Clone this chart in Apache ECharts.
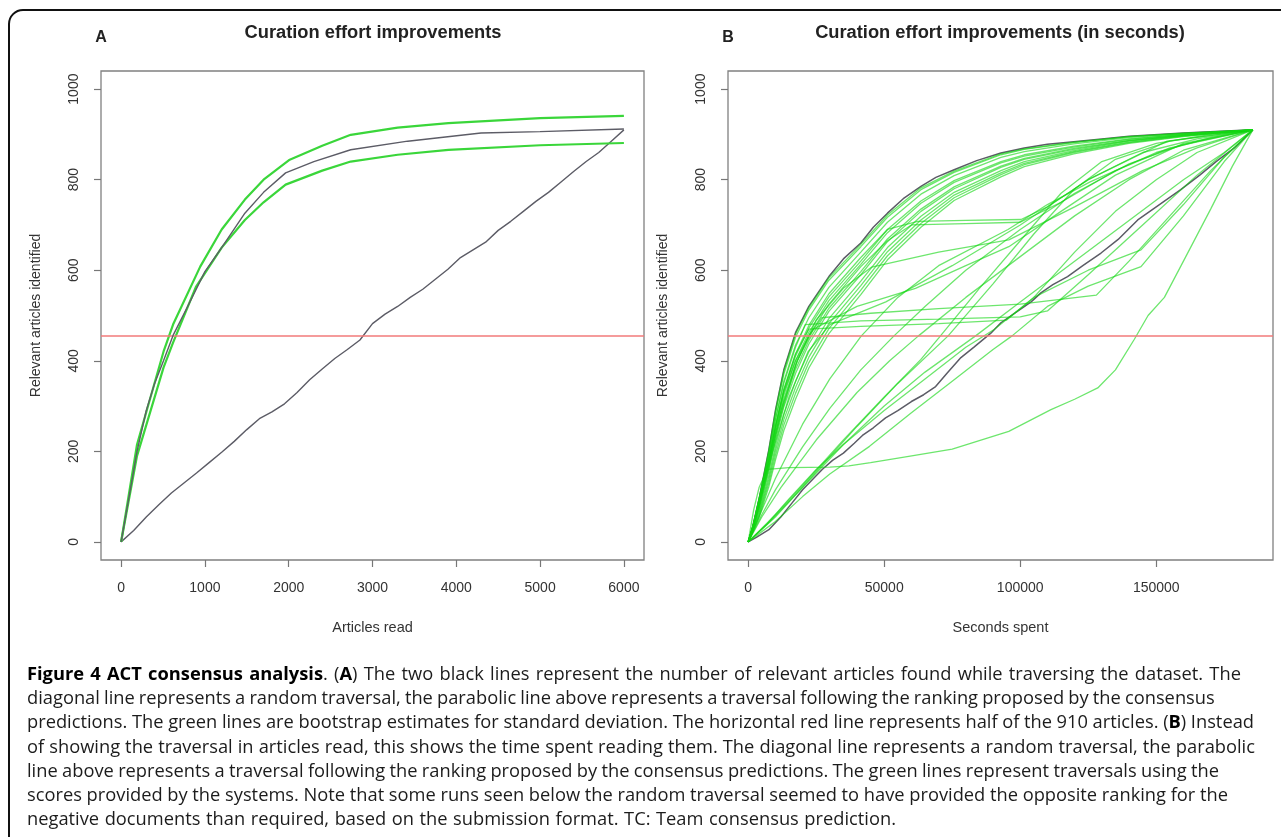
<!DOCTYPE html>
<html>
<head>
<meta charset="utf-8">
<script src="https://cdn.jsdelivr.net/npm/echarts@6/dist/echarts.min.js"></script>
<style>
  html, body { margin:0; padding:0; background:#fff; }
  #wrap { position:relative; width:1281px; height:837px; overflow:hidden; background:#fff; }
  #chart { position:absolute; left:0; top:0; width:1281px; height:837px; }
  .cap { position:absolute; left:27px; height:24px; line-height:24px; white-space:nowrap;
         font-family:"Open Sans","Noto Sans",sans-serif; font-size:18.3px; color:#1c1c1c; }
  .cap b { color:#000; font-weight:700; }
</style>
</head>
<body>
<div id="wrap">
  <div id="chart"></div>
  <div class="cap" data-end="1255" style="top:661px"><span><b>Figure 4 ACT consensus analysis</b>. (<b>A</b>) The two black lines represent the number of relevant articles found while traversing the dataset. The</span></div>
  <div class="cap" data-end="1196" style="top:685px"><span>diagonal line represents a random traversal, the parabolic line above represents a traversal following the ranking proposed by the consensus</span></div>
  <div class="cap" data-end="1254" style="top:709px"><span>predictions. The green lines are bootstrap estimates for standard deviation. The horizontal red line represents half of the 910 articles. (<b>B</b>) Instead</span></div>
  <div class="cap" data-end="1255" style="top:734px"><span>of showing the traversal in articles read, this shows the time spent reading them. The diagonal line represents a random traversal, the parabolic</span></div>
  <div class="cap" data-end="1219" style="top:758px"><span>line above represents a traversal following the ranking proposed by the consensus predictions. The green lines represent traversals using the</span></div>
  <div class="cap" data-end="1228" style="top:782px"><span>scores provided by the systems. Note that some runs seen below the random traversal seemed to have provided the opposite ranking for the</span></div>
  <div class="cap" data-end="896" style="top:806px"><span>negative documents than required, based on the submission format. TC: Team consensus prediction.</span></div>
</div>
<script>
// ---------- tick labels ----------
const ticksAX = [0, 1000, 2000, 3000, 4000, 5000, 6000];
const ticksBX = [0, 50000, 100000, 150000];
const ticksY  = [0, 200, 400, 600, 800, 1000];
const halfOfRelevant = 455; // half of the 910 articles

// ---------- Panel A: articles read vs relevant articles ----------
const randomA = [[0,0],[150,25],[300,55],[450,82],[600,108],[750,130],[900,152],[1050,175],[1200,198],[1350,222],[1500,248],[1650,272],[1800,287],[1950,305],[2100,330],[2250,358],[2400,382],[2550,405],[2700,425],[2850,446],[3000,482],[3150,503],[3300,520],[3450,540],[3600,558],[3750,580],[3900,602],[4050,628],[4200,645],[4350,662],[4500,688],[4650,708],[4800,730],[4950,752],[5100,772],[5250,795],[5400,818],[5550,840],[5700,860],[5850,885],[6000,910]];
const consensusA = [[0,0],[100,105],[190,200],[300,290],[400,350],[506,400],[620,456],[800,522],[1000,597],[1200,650],[1477,726],[1700,772],[1963,815],[2300,840],[2740,866],[3420,885],[4295,903],[5000,906],[6000,912]];
const upperA = [[0,0],[190,215],[506,420],[620,480],[944,608],[1200,690],[1477,756],[1700,800],[2012,844],[2400,875],[2740,899],[3300,915],[3906,925],[5000,936],[6000,941]];
const lowerA = [[0,0],[190,190],[506,385],[620,440],[895,564],[1200,650],[1477,711],[1700,750],[1963,789],[2400,820],[2740,840],[3300,855],[3906,866],[5000,876],[6000,881]];

// ---------- Panel B: seconds spent vs relevant articles ----------
const consensusB = [[0,0],[1500,30],[3930,93],[7600,204],[10070,292],[13100,380],[17400,462],[22300,520],[29670,586],[35000,625],[41400,660],[46000,695],[51200,726],[57000,758],[63500,785],[69000,805],[75700,822],[84000,842],[92900,859],[101500,870],[110000,878],[119700,884],[130000,890],[140000,896],[160000,903],[185500,910]];
const randomB = [[0,0],[3000,10],[7600,27],[12000,55],[16000,85],[20000,115],[24000,140],[27200,160],[31000,180],[35000,196],[39000,218],[42000,235],[46000,252],[50500,274],[55000,290],[60000,310],[64500,325],[68900,343],[73000,372],[78200,407],[83000,430],[89200,461],[92900,484],[98000,505],[104000,530],[107600,550],[112000,568],[117400,586],[123000,610],[129700,638],[136000,668],[143200,711],[150000,740],[159000,778],[166000,810],[172000,840],[178700,870],[185500,910]];

const runT0  = [[0,0],[1500,30],[3930,92],[7600,202],[10070,290],[13100,377],[17400,459],[22300,517],[29670,583],[41400,657],[51200,722],[63500,782],[75700,819],[92900,857],[101500,868],[119700,883],[140000,895],[160000,903],[185500,910]];
const runT1  = [[0,0],[1500,29],[3930,90],[7600,198],[10070,284],[13100,370],[17400,452],[22300,512],[29670,578],[41400,652],[51200,717],[63500,778],[75700,816],[92900,855],[101500,867],[119700,882],[140000,895],[160000,902],[185500,910]];
const runT2  = [[0,0],[1500,28],[3930,86],[7600,190],[10070,272],[13100,355],[17400,435],[22300,495],[29670,562],[41400,640],[51200,706],[63500,768],[75700,809],[92900,849],[101500,862],[119700,879],[140000,893],[160000,901],[185500,910]];
const runT3  = [[0,0],[1500,26],[3930,80],[7600,178],[10070,255],[13100,333],[17400,410],[22300,472],[29670,541],[41400,620],[51200,690],[63500,753],[75700,798],[92900,840],[101500,855],[119700,874],[140000,890],[160000,900],[185500,910]];
const runT4  = [[0,0],[1500,25],[3930,77],[7600,172],[10070,247],[13100,324],[17400,400],[22300,463],[29670,533],[41400,613],[51200,683],[63500,748],[75700,794],[92900,837],[101500,852],[119700,872],[140000,889],[160000,900],[185500,910]];
const runT5  = [[0,0],[1500,24],[3930,72],[7600,162],[10070,233],[13100,307],[17400,381],[22300,445],[29670,516],[41400,597],[51200,669],[63500,735],[75700,784],[92900,830],[101500,847],[119700,869],[140000,887],[160000,899],[185500,910]];
const runT6  = [[0,0],[1500,23],[3930,69],[7600,156],[10070,225],[13100,298],[17400,372],[22300,437],[29670,509],[41400,590],[51200,663],[63500,730],[75700,780],[92900,827],[101500,845],[119700,867],[140000,886],[160000,898],[185500,910]];
const runT7  = [[0,0],[1500,22],[3930,64],[7600,146],[10070,212],[13100,282],[17400,354],[22300,420],[29670,493],[41400,576],[51200,650],[63500,719],[75700,772],[92900,820],[101500,840],[119700,864],[140000,885],[160000,898],[185500,910]];
const runT8  = [[0,0],[1500,21],[3930,60],[7600,138],[10070,202],[13100,270],[17400,341],[22300,408],[29670,482],[41400,566],[51200,641],[63500,711],[75700,766],[92900,815],[101500,836],[119700,862],[140000,883],[160000,897],[185500,910]];
const runT9  = [[0,0],[1500,20],[3930,56],[7600,130],[10070,192],[13100,258],[17400,328],[22300,396],[29670,471],[41400,556],[51200,632],[63500,703],[75700,760],[92900,811],[101500,833],[119700,860],[140000,882],[160000,896],[185500,910]];
const runT10 = [[0,0],[1500,19],[3930,52],[7600,122],[10070,182],[13100,246],[17400,315],[22300,384],[29670,460],[41400,546],[51200,623],[63500,695],[75700,754],[92900,806],[101500,829],[119700,857],[140000,880],[160000,895],[185500,910]];
const runP1 = [[0,0],[1500,28],[3930,85],[7600,190],[10070,270],[13100,350],[17400,430],[21000,480],[41400,488],[70000,492],[100000,497],[110000,510],[125000,590],[145000,700],[165000,810],[185500,910]];
const runP2 = [[0,0],[1500,26],[3930,80],[7600,178],[10070,255],[13100,335],[17400,415],[22300,470],[41400,476],[70000,482],[95000,490],[105000,540],[120000,640],[135000,730],[150000,800],[165000,860],[185500,910]];
const runP3 = [[0,0],[2000,40],[4000,95],[7600,185],[10070,255],[13100,330],[17400,400],[22300,455],[27000,495],[45000,505],[70000,515],[100000,525],[128000,545],[140000,620],[155000,720],[170000,820],[185500,910]];
const runP4 = [[0,0],[1500,27],[3930,82],[7600,180],[10070,258],[13100,338],[17400,415],[22300,478],[29670,548],[41400,628],[51200,690],[62300,708],[80000,710],[100300,712],[110000,740],[125000,800],[145000,860],[165000,890],[185500,910]];
const runP5 = [[0,0],[1500,25],[3930,75],[7600,165],[10070,240],[13100,315],[17400,390],[22300,455],[29670,525],[41400,608],[51200,665],[60000,700],[80000,703],[100000,706],[115000,750],[135000,820],[155000,870],[185500,910]];
const runM1 = [[0,0],[2000,40],[4000,95],[7600,180],[12000,290],[18000,400],[25000,490],[35000,560],[45400,607],[70000,640],[95800,667],[120000,740],[145000,820],[165000,870],[185500,910]];
const runE1 = [[0,0],[2000,38],[4000,90],[7600,175],[12000,280],[18000,400],[24000,470],[40000,520],[61500,560],[80000,610],[95800,652],[115000,730],[135000,810],[160000,880],[185500,910]];
const runE2 = [[0,0],[3000,60],[6000,130],[9000,200],[15000,320],[22000,420],[30000,480],[50600,530],[75000,610],[100000,700],[125000,800],[154000,885],[185500,910]];
const runD1 = [[0,0],[5000,70],[10000,140],[20000,260],[30000,360],[41600,455],[55000,540],[70000,610],[95500,690],[110000,745],[125700,795],[150000,860],[170000,893],[185500,910]];
const runD2 = [[0,0],[5000,60],[10000,115],[20000,210],[30000,295],[41400,380],[53600,455],[65000,520],[80000,600],[100000,690],[120000,770],[140000,835],[160000,878],[185500,910]];
const runD3 = [[0,0],[10000,60],[20000,125],[35000,225],[50000,320],[63500,403],[70000,450],[85000,560],[100000,665],[115000,770],[130000,840],[150000,880],[170000,900],[185500,910]];
const runD4 = [[0,0],[10000,55],[25000,155],[40000,255],[55000,350],[73500,455],[90000,570],[105000,680],[120000,780],[135000,845],[155000,885],[185500,910]];
const runD5 = [[0,0],[8000,45],[20000,120],[35000,215],[50000,300],[65000,375],[83600,455],[100000,530],[120000,620],[140000,710],[160000,800],[175000,860],[185500,910]];
const runD6 = [[0,0],[5000,55],[12000,120],[25000,225],[40000,330],[52000,400],[62600,455],[80000,540],[100000,630],[120000,720],[140000,800],[160000,865],[185500,910]];
const runR1 = [[0,0],[10000,45],[20000,100],[30000,150],[44600,211],[60000,285],[75000,355],[90000,425],[97000,455],[110000,520],[125000,565],[144400,608],[160000,720],[175000,840],[185500,910]];
const runR2 = [[0,0],[7000,40],[15000,95],[25000,160],[35000,215],[50000,290],[65000,360],[80000,430],[90400,469],[105000,540],[125000,600],[144400,645],[160000,745],[175000,850],[185500,910]];
const runL  = [[0,0],[2000,70],[4000,120],[7000,160],[15000,164],[30000,165],[37000,168],[45000,175],[59000,189],[75000,205],[95800,244],[111300,292],[120000,315],[128500,340],[135000,380],[141900,447],[147000,500],[153000,540],[160000,620],[170000,735],[178000,830],[185500,910]];

const greenRunsB = [runL, runR1, runR2, runD5, runD4, runD3, runD6, runD2, runD1, runE2, runE1, runM1,
  runP3, runP2, runP1, runP5, runP4, runT10, runT9, runT8, runT7, runT6, runT5, runT4, runT3, runT2, runT1, runT0];

// ---------- styling ----------
const GRAY = '#5c5c66';
const GREEN_A = '#3ad63a';
const GREEN_B = 'rgba(20,215,20,0.62)';
const RED = '#f27a7a';
const FONT = '"Liberation Sans", Arial, sans-serif';

function line(data, idx, color, width, z) {
  return { type:'line', xAxisIndex:idx, yAxisIndex:idx, data:data, showSymbol:false, symbol:'none',
    silent:true, animation:false, z:z, lineStyle:{ color:color, width:width } };
}
function redLine(idx) {
  return { type:'line', xAxisIndex:idx, yAxisIndex:idx, data:[], silent:true, animation:false, z:1,
    markLine:{ silent:true, animation:false, symbol:['none','none'], label:{show:false},
      lineStyle:{ color:RED, width:1.6, type:'solid' }, data:[{ yAxis: halfOfRelevant }] } };
}
function xAxis(idx, min, max, ticks, name) {
  return { type:'value', gridIndex:idx, min:min, max:max, splitLine:{show:false},
    axisLine:{show:false, onZero:false},
    axisTick:{ show:true, inside:false, length:7, customValues:ticks, lineStyle:{color:'#777', width:1.2} },
    axisLabel:{ customValues:ticks, margin:21, fontSize:14, color:'#333', fontFamily:FONT, formatter:v=>String(v) },
    name:name, nameLocation:'middle', nameGap:60,
    nameTextStyle:{ fontSize:14.5, color:'#333', fontFamily:FONT } };
}
function yAxis(idx) {
  return { type:'value', gridIndex:idx, min:-40, max:1040, splitLine:{show:false},
    axisLine:{show:false, onZero:false},
    axisTick:{ show:true, inside:false, length:7, customValues:ticksY, lineStyle:{color:'#777', width:1.2} },
    axisLabel:{ customValues:ticksY, rotate:90, margin:20, fontSize:14, color:'#333', fontFamily:FONT, formatter:v=>String(v) },
    name:'Relevant articles identified', nameLocation:'middle', nameGap:58,
    nameTextStyle:{ fontSize:14, color:'#333', fontFamily:FONT } };
}

const series = [];
series.push(redLine(0));
series.push(line(randomA, 0, GRAY, 1.4, 3));
series.push(line(lowerA, 0, GREEN_A, 2.2, 4));
series.push(line(upperA, 0, GREEN_A, 2.2, 4));
series.push(line(consensusA, 0, GRAY, 1.4, 5));
series.push(redLine(1));
series.push(line(consensusB, 1, GRAY, 1.5, 2));
series.push(line(randomB, 1, GRAY, 1.5, 2));
greenRunsB.forEach(r => series.push(line(r, 1, GREEN_B, 1.3, 3)));

const chart = echarts.init(document.getElementById('chart'), null, { renderer:'canvas' });
chart.setOption({
  animation:false,
  backgroundColor:'#fff',
  grid:[
    { left:101, top:71, width:543, height:489, show:true, borderColor:'#808080', borderWidth:1.3, backgroundColor:'transparent' },
    { left:728, top:71, width:545, height:489, show:true, borderColor:'#808080', borderWidth:1.3, backgroundColor:'transparent' }
  ],
  xAxis:[ xAxis(0, -240, 6240, ticksAX, 'Articles read'), xAxis(1, -7420, 192920, ticksBX, 'Seconds spent') ],
  yAxis:[ yAxis(0), yAxis(1) ],
  graphic:[
    { type:'rect', silent:true, z:100, shape:{ x:9, y:10, width:1320, height:900, r:14 },
      style:{ fill:null, stroke:'#111', lineWidth:2 } },
    { type:'text', x:101, y:38, silent:true, style:{ text:'A', font:'bold 16px ' + FONT, fill:'#222', align:'center', verticalAlign:'middle' } },
    { type:'text', x:373, y:33, silent:true, style:{ text:'Curation effort improvements', font:'bold 18.3px ' + FONT, fill:'#222', align:'center', verticalAlign:'middle' } },
    { type:'text', x:728, y:38, silent:true, style:{ text:'B', font:'bold 16px ' + FONT, fill:'#222', align:'center', verticalAlign:'middle' } },
    { type:'text', x:1000, y:33, silent:true, style:{ text:'Curation effort improvements (in seconds)', font:'bold 18.3px ' + FONT, fill:'#222', align:'center', verticalAlign:'middle' } }
  ],
  series:series
});

// nudge each caption line toward the line end seen in the figure (small word-spacing change only)
function fitCaption() {
  document.querySelectorAll('.cap').forEach(div => {
    const span = div.firstElementChild;
    span.style.wordSpacing = '0px';
    const w = span.getBoundingClientRect().width;
    const target = parseFloat(div.dataset.end) - 27;
    const spaces = (span.textContent.match(/ /g) || []).length;
    if (spaces > 0) {
      let ws = (target - w) / spaces;
      ws = Math.max(-0.6, Math.min(1.5, ws));
      span.style.wordSpacing = ws + 'px';
    }
  });
}
fitCaption();
if (document.fonts && document.fonts.ready) document.fonts.ready.then(fitCaption);
</script>
</body>
</html>
